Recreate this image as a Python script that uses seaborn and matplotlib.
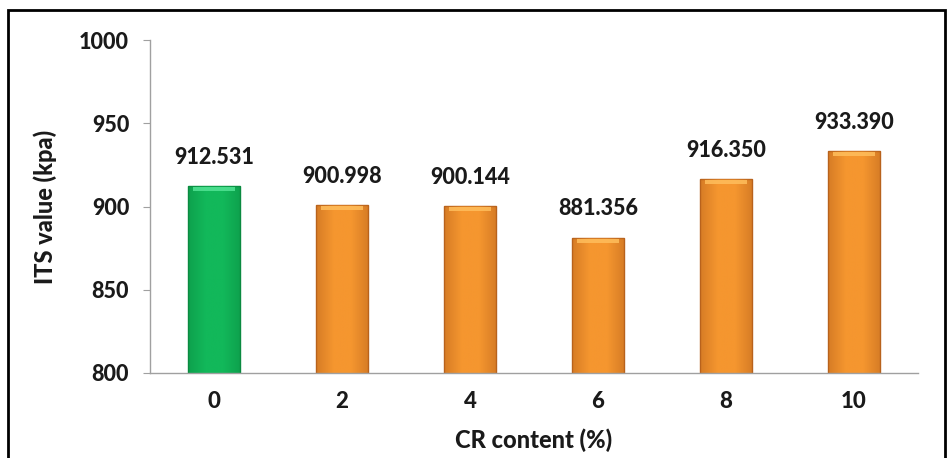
import numpy as np
import pandas as pd
import matplotlib
matplotlib.use("Agg")
import matplotlib.pyplot as plt
import seaborn as sns
from matplotlib.patches import Rectangle
from matplotlib.colors import LinearSegmentedColormap

categories = ["0", "2", "4", "6", "8", "10"]
its_values = [912.531, 900.998, 900.144, 881.356, 916.350, 933.390]
value_labels = ["912.531", "900.998", "900.144", "881.356", "916.350", "933.390"]
y_ticks = [800, 850, 900, 950, 1000]

sns.set_style("white")
plt.rcParams["font.family"] = ["Lato", "DejaVu Sans"]
W = 900

fig = plt.figure(figsize=(9.47, 4.58), dpi=100)
ax = fig.add_axes([0.1584, 0.1856, 0.811, 0.727])

df = pd.DataFrame({"CR": categories, "ITS": its_values})
palette = ["#12B85A"] + ["#F5962F"] * 5
sns.barplot(data=df, x="CR", y="ITS", hue="CR", palette=palette, legend=False,
            width=0.41, ax=ax, order=categories, saturation=1)

ymin, ymax = 800, 1000
ax.set_ylim(ymin, ymax)
ax.set_yticks(y_ticks)
ax.set_xlim(-0.5, len(categories) - 0.5)

# gradient shading inside bars
edge_cols = ["#0A8A40"] + ["#B8621C"] * 5
top_cols = ["#52E394"] + ["#FFBE5C"] * 5
bars = list(ax.patches)
for i, p in enumerate(bars):
    p.set_edgecolor(edge_cols[i])
    p.set_linewidth(1.0)
    x0, w = p.get_x(), p.get_width()
    top = p.get_y() + p.get_height()
    base = palette[i]
    cmap = LinearSegmentedColormap.from_list("g", [edge_cols[i], base, base, edge_cols[i]])
    grad = np.linspace(0, 1, 100).reshape(1, -1)
    im = ax.imshow(grad, extent=[x0, x0 + w, ymin, top], aspect="auto",
                   cmap=cmap, zorder=p.get_zorder() + 0.1, alpha=0.5)
    im.set_clip_path(p)
    ax.add_patch(Rectangle((x0 + w * 0.1, top - 3.0), w * 0.8, 2.4,
                           facecolor=top_cols[i], edgecolor="none",
                           zorder=p.get_zorder() + 0.2, alpha=0.85))

for i, (v, lab) in enumerate(zip(its_values, value_labels)):
    ax.annotate(lab, (i, v), xytext=(0, 13), textcoords="offset points",
                ha="center", va="bottom", fontsize=15.5, fontweight=W,
                color="#1a1a1a")

for s in ["top", "right"]:
    ax.spines[s].set_visible(False)
for s in ["left", "bottom"]:
    ax.spines[s].set_color("#A0A0A0")
    ax.spines[s].set_linewidth(1.0)

ax.set_xticks(np.arange(-0.5, len(categories)), minor=True)
ax.tick_params(axis="x", which="major", length=0, pad=13, labelsize=16)
ax.tick_params(axis="x", which="minor", length=5, color="#A0A0A0", direction="out")
ax.tick_params(axis="y", which="major", length=5, color="#A0A0A0", direction="out",
               pad=10, labelsize=15.5, left=True)
for lbl in ax.get_xticklabels() + ax.get_yticklabels():
    lbl.set_fontweight(W)
    lbl.set_color("#1a1a1a")

ax.set_xlabel("CR content (%)", fontsize=17, fontweight=W, labelpad=12, color="#1a1a1a")
ax.set_ylabel("ITS value (kpa)", fontsize=17, fontweight=W, labelpad=16, color="#1a1a1a")

fig.patches.append(Rectangle((8 / 947, -0.05), 937 / 947, 1.05 - 10 / 458,
                             transform=fig.transFigure, fill=False,
                             edgecolor="black", linewidth=2, zorder=10))

fig.savefig("out.png", dpi=100)
